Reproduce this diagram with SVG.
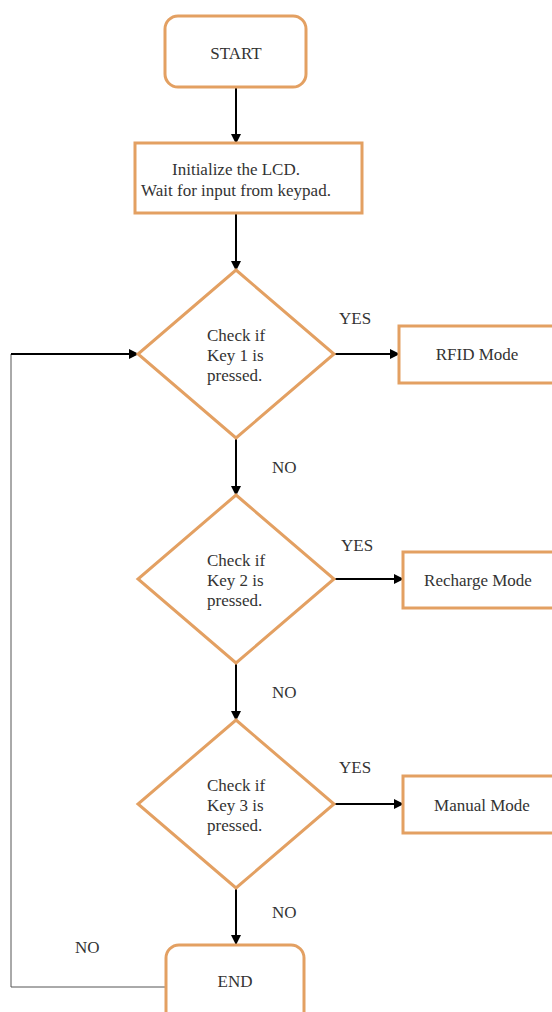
<svg xmlns="http://www.w3.org/2000/svg" width="552" height="1012" viewBox="0 0 552 1012">
<defs>
<marker id="ah" markerWidth="10" markerHeight="10" refX="9" refY="5" orient="auto" markerUnits="userSpaceOnUse">
<path d="M0,0 L10,5 L0,10 z" fill="#000"/>
</marker>
<style>
.n{fill:#fff;stroke:#e3a062;stroke-width:3}
.t{font-family:"Liberation Serif","Times New Roman",Times,"DejaVu Serif",serif;font-size:17px;fill:#333}
.c{text-anchor:middle}
.e{stroke:#000;stroke-width:2;fill:none}
.f{stroke:#555;stroke-width:1;fill:none}
</style>
</defs>
<rect width="552" height="1012" fill="#fff"/>
<g id="connectors">
<line class="e" x1="236" y1="87" x2="236" y2="143" marker-end="url(#ah)"/>
<line class="e" x1="236" y1="213" x2="236" y2="270" marker-end="url(#ah)"/>
<line class="e" x1="236" y1="438" x2="236" y2="495" marker-end="url(#ah)"/>
<line class="e" x1="236" y1="663" x2="236" y2="720" marker-end="url(#ah)"/>
<line class="e" x1="236" y1="888" x2="236" y2="944" marker-end="url(#ah)"/>
<line class="e" x1="334" y1="354" x2="399" y2="354" marker-end="url(#ah)"/>
<line class="e" x1="334" y1="579" x2="403" y2="579" marker-end="url(#ah)"/>
<line class="e" x1="334" y1="804" x2="403" y2="804" marker-end="url(#ah)"/>
<polyline class="f" points="166,987 11,987 11,354"/>
<line class="e" x1="11" y1="354" x2="138" y2="354" marker-end="url(#ah)"/>
<text class="t" x="339" y="324">YES</text>
<text class="t" x="341" y="551">YES</text>
<text class="t" x="339" y="773">YES</text>
<text class="t" x="272" y="473">NO</text>
<text class="t" x="272" y="698">NO</text>
<text class="t" x="272" y="918">NO</text>
<text class="t" x="75" y="953">NO</text>
</g>
<g id="start">
<rect class="n" x="165" y="16" width="141" height="71" rx="13"/>
<text class="t c" x="236" y="59">START</text>
</g>
<g id="init">
<rect class="n" x="135" y="143" width="227" height="70"/>
<text class="t c" x="236" y="175">Initialize the LCD.</text>
<text class="t c" x="236" y="196">Wait for input from keypad.</text>
</g>
<g id="check1">
<polygon class="n" points="236,270 334,354 236,438 138,354"/>
<text class="t" x="207" y="341">Check if</text>
<text class="t" x="207" y="361">Key 1 is</text>
<text class="t" x="207" y="381">pressed.</text>
</g>
<g id="rfid">
<rect class="n" x="399" y="326" width="160" height="57"/>
<text class="t c" x="477" y="360">RFID Mode</text>
</g>
<g id="check2">
<polygon class="n" points="236,495 334,579 236,663 138,579"/>
<text class="t" x="207" y="566">Check if</text>
<text class="t" x="207" y="586">Key 2 is</text>
<text class="t" x="207" y="606">pressed.</text>
</g>
<g id="recharge">
<rect class="n" x="403" y="552" width="160" height="56"/>
<text class="t c" x="478" y="586">Recharge Mode</text>
</g>
<g id="check3">
<polygon class="n" points="236,720 334,804 236,888 138,804"/>
<text class="t" x="207" y="791">Check if</text>
<text class="t" x="207" y="811">Key 3 is</text>
<text class="t" x="207" y="831">pressed.</text>
</g>
<g id="manual">
<rect class="n" x="403" y="776" width="160" height="57"/>
<text class="t c" x="482" y="811">Manual Mode</text>
</g>
<g id="end">
<rect class="n" x="166" y="945" width="138" height="80" rx="13"/>
<text class="t c" x="235" y="987">END</text>
</g>
</svg>
